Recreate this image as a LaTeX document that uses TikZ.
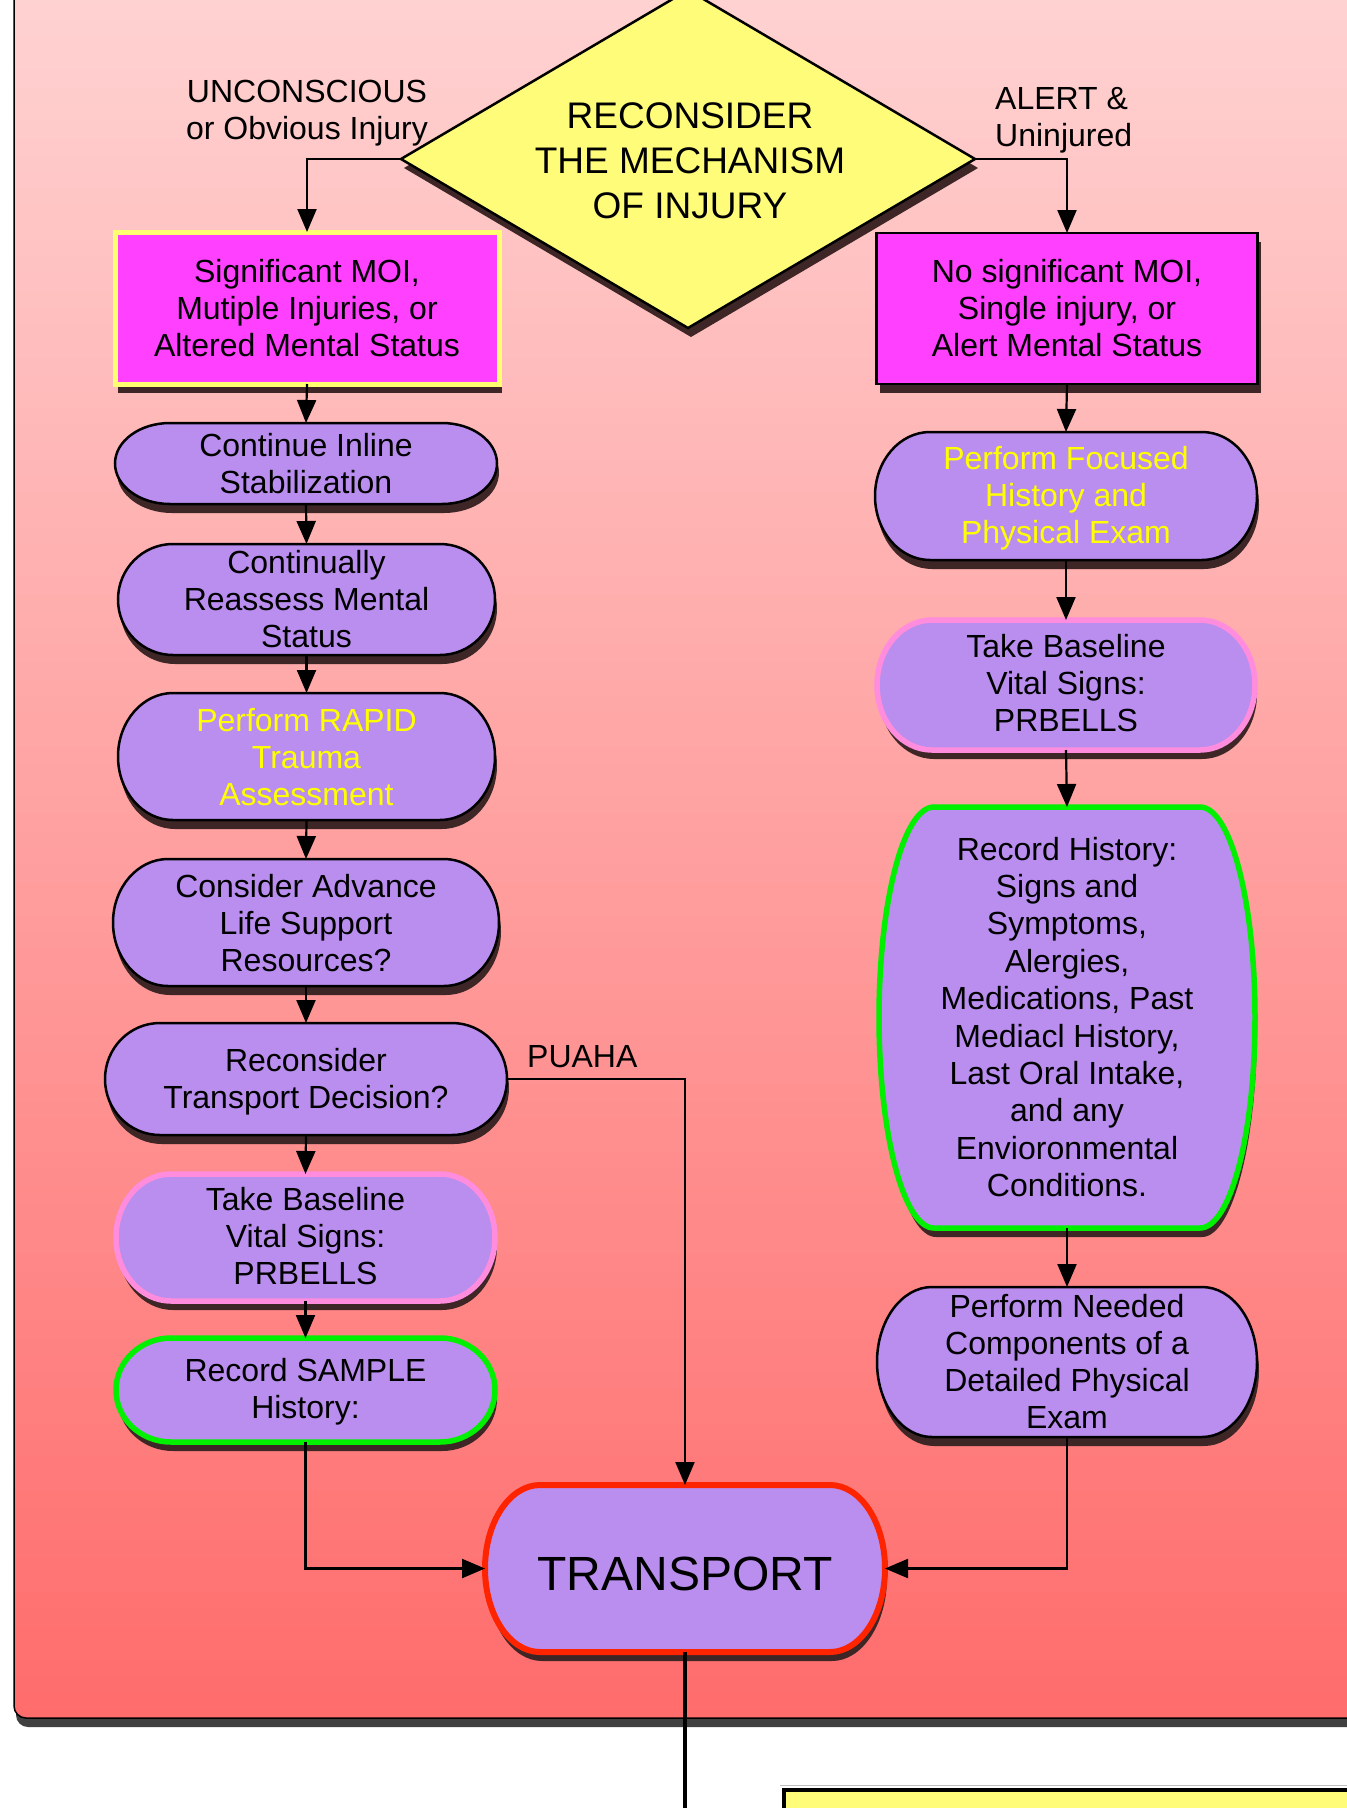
\documentclass[tikz,border=0pt]{standalone}
\usepackage{fontspec}
\setmainfont{Liberation Sans}
\usetikzlibrary{arrows.meta,shapes.geometric,shadows}
\definecolor{capfill}{RGB}{186,142,239}
\definecolor{magbox}{RGB}{255,64,255}
\definecolor{diayellow}{RGB}{255,252,122}
\definecolor{paleyellow}{RGB}{255,255,112}
\definecolor{txtyellow}{RGB}{255,255,0}
\definecolor{pinkline}{RGB}{255,140,220}
\definecolor{greenline}{RGB}{0,240,0}
\definecolor{redline}{RGB}{255,36,0}
\definecolor{shadowcol}{RGB}{62,38,38}
\definecolor{bgtop}{RGB}{255,212,212}
\definecolor{bgbot}{RGB}{255,108,108}
\newcommand\capr{55}
% name, x1, y1, x2, y2, border style, text style, text, text y offset
\newcommand\capbox[9]{%
  \pgfmathsetmacro\cbcx{(#2+#4)/2}%
  \pgfmathsetmacro\cbcy{(#3+#5)/2}%
  \pgfmathsetmacro\cbty{(#3+#5)/2+#9}%
  \pgfmathsetmacro\cbry{(#5-#3)/2}%
  \pgfmathsetmacro\cbxa{#2+\capr}%
  \pgfmathsetmacro\cbxb{#4-\capr}%
  \pgfmathsetmacro\cbw{#4-#2}%
  \pgfmathsetmacro\cbh{#5-#3}%
  \fill[shadowcol, shift={(2,9)}] (\cbxa,#3) -- (\cbxb,#3)
    arc[start angle=90,end angle=-90,x radius=\capr pt,y radius=\cbry pt]
    -- (\cbxa,#5) arc[start angle=270,end angle=90,x radius=\capr pt,y radius=\cbry pt] -- cycle;
  \draw[fill=capfill, line width=2.5pt, #6] (\cbxa,#3) -- (\cbxb,#3)
    arc[start angle=90,end angle=-90,x radius=\capr pt,y radius=\cbry pt]
    -- (\cbxa,#5) arc[start angle=270,end angle=90,x radius=\capr pt,y radius=\cbry pt] -- cycle;
  \node[inner sep=0pt, outer sep=0pt, minimum width=\cbw pt, minimum height=\cbh pt] (#1) at (\cbcx,\cbcy) {};
  \node[boxtext, #7] (#1t) at (\cbcx,\cbty) {#8};
}
\begin{document}
\begin{tikzpicture}[x=1pt,y=-1pt,
  boxtext/.style={font=\fontsize{32}{37}\selectfont, align=center, inner sep=0pt, outer sep=0pt},
  lbl/.style={font=\fontsize{32}{37}\selectfont, inner sep=0pt},
  conn/.style={line width=2.2pt, -{Triangle[width=19pt,length=23pt]}},
  dshadow/.style={drop shadow={shadow xshift=3pt, shadow yshift=-9pt, fill=shadowcol, opacity=1}},
  ytext/.style={text=txtyellow},
  pinkb/.style={draw=pinkline, line width=5.5pt},
  greenb/.style={draw=greenline, line width=5.5pt},
  redb/.style={draw=redline, line width=6pt}]
\useasboundingbox (0,0) rectangle (1347,1808);
\fill[white] (0,0) rectangle (1347,1808);
% background panel
\fill[black!75, rounded corners=12pt] (16,-40) rectangle (1380,1727);
\shade[top color=bgtop, bottom color=bgbot, rounded corners=12pt] (14,-40) rectangle (1380,1718);
\draw[line width=1.5pt, rounded corners=12pt] (14,-40) rectangle (1380,1718);
% bottom yellow box
\draw[black!25, line width=1pt] (780,1785.5) -- (1347,1785.5);
\draw[line width=4.5pt, fill=diayellow] (784,1790) rectangle (1380,1860);
% diamond
\node[diamond, draw, line width=2.5pt, fill=diayellow, aspect=1.7, minimum width=574pt, minimum height=338pt,
  inner sep=0pt, outer sep=0pt, dshadow] (dia) at (688,159) {};
\node[align=center, inner sep=0pt, font=\fontsize{37}{45}\selectfont] (diat) at (690,160.5)
  {RECONSIDER\\THE MECHANISM\\OF INJURY};
% magenta boxes
\node[rectangle, draw=paleyellow, line width=5pt, fill=magbox, minimum width=384pt, minimum height=152pt,
  inner sep=0pt, outer sep=0pt, dshadow, align=center, font=\fontsize{32}{37}\selectfont] (sig) at (307,308)
  {Significant MOI,\\Mutiple Injuries, or\\Altered Mental Status};
\node[rectangle, draw=black, line width=2.5pt, fill=magbox, minimum width=381pt, minimum height=151pt,
  inner sep=0pt, outer sep=0pt, dshadow, align=center, font=\fontsize{32}{37}\selectfont] (nosig) at (1067,308.5)
  {No significant MOI,\\Single injury, or\\Alert Mental Status};
% left column
\capbox{cont}{115}{423}{497}{504}{}{}{Continue Inline\\Stabilization}{0}
\capbox{reas}{118}{544}{495}{655}{}{}{Continually\\Reassess Mental\\Status}{0}
\capbox{rapid}{118}{693}{495}{820}{}{ytext}{Perform RAPID\\Trauma\\Assessment}{1}
\capbox{als}{113}{859}{499}{986}{}{}{Consider Advance\\Life Support\\Resources?}{0.5}
\capbox{recon}{105}{1023}{507}{1135}{}{}{Reconsider\\Transport Decision?}{3}
\capbox{vitl}{116}{1174}{495}{1301}{pinkb}{}{Take Baseline\\Vital Signs:\\PRBELLS}{-1}
\capbox{sample}{116}{1338}{495}{1442}{greenb}{}{Record SAMPLE\\History:}{1.5}
% right column
\capbox{focus}{875}{432}{1257}{560}{}{ytext}{Perform Focused\\History and\\Physical Exam}{2}
\capbox{vitr}{877}{620}{1255}{750}{pinkb}{}{Take Baseline\\Vital Signs:\\PRBELLS}{-1.5}
\capbox{hist}{879}{807}{1255}{1228}{greenb}{font=\fontsize{32}{37.4}\selectfont}{Record History:\\Signs and\\Symptoms,\\Alergies,\\Medications, Past\\Mediacl History,\\Last Oral Intake,\\and any\\Envioronmental\\Conditions.}{-0.5}
\capbox{need}{877}{1287}{1257}{1437}{}{}{Perform Needed\\Components of a\\Detailed Physical\\Exam}{0}
% transport
\capbox{tr}{485}{1485}{885}{1652}{redb}{font=\fontsize{48}{56}\selectfont}{TRANSPORT}{5.5}
% labels
\node[lbl, align=center] (lunc) at (307,113) {UNCONSCIOUS\\or Obvious Injury};
\node[lbl, align=left, anchor=west] (lalert) at (995,120) {ALERT \&\\Uninjured};
\node[lbl, anchor=west] (lpuaha) at (527,1057) {PUAHA};
% connectors
\draw[conn] (dia.west) -| (sig.north);
\draw[conn] (dia.east) -| (nosig.north);
\draw[conn] (sig.south) -- (cont.north);
\draw[conn] (cont.south) -- (reas.north);
\draw[conn] (reas.south) -- (rapid.north);
\draw[conn] (rapid.south) -- (als.north);
\draw[conn] (als.south) -- (recon.north);
\draw[conn] (recon.south) -- (vitl.north);
\draw[conn] (vitl.south) -- (sample.north);
\draw[conn] (recon.east) -| (tr.north);
\draw[conn] (sample.south) |- (tr.west);
\draw[conn] (nosig.south) -- (focus.north);
\draw[conn] (focus.south) -- (vitr.north);
\draw[conn] (vitr.south) -- (hist.north);
\draw[conn] (hist.south) -- (need.north);
\draw[conn] (need.south) |- (tr.east);
\coordinate (trout) at (685,1830);
\draw[line width=3.5pt] (tr.south) -- (trout);
\end{tikzpicture}
\end{document}
